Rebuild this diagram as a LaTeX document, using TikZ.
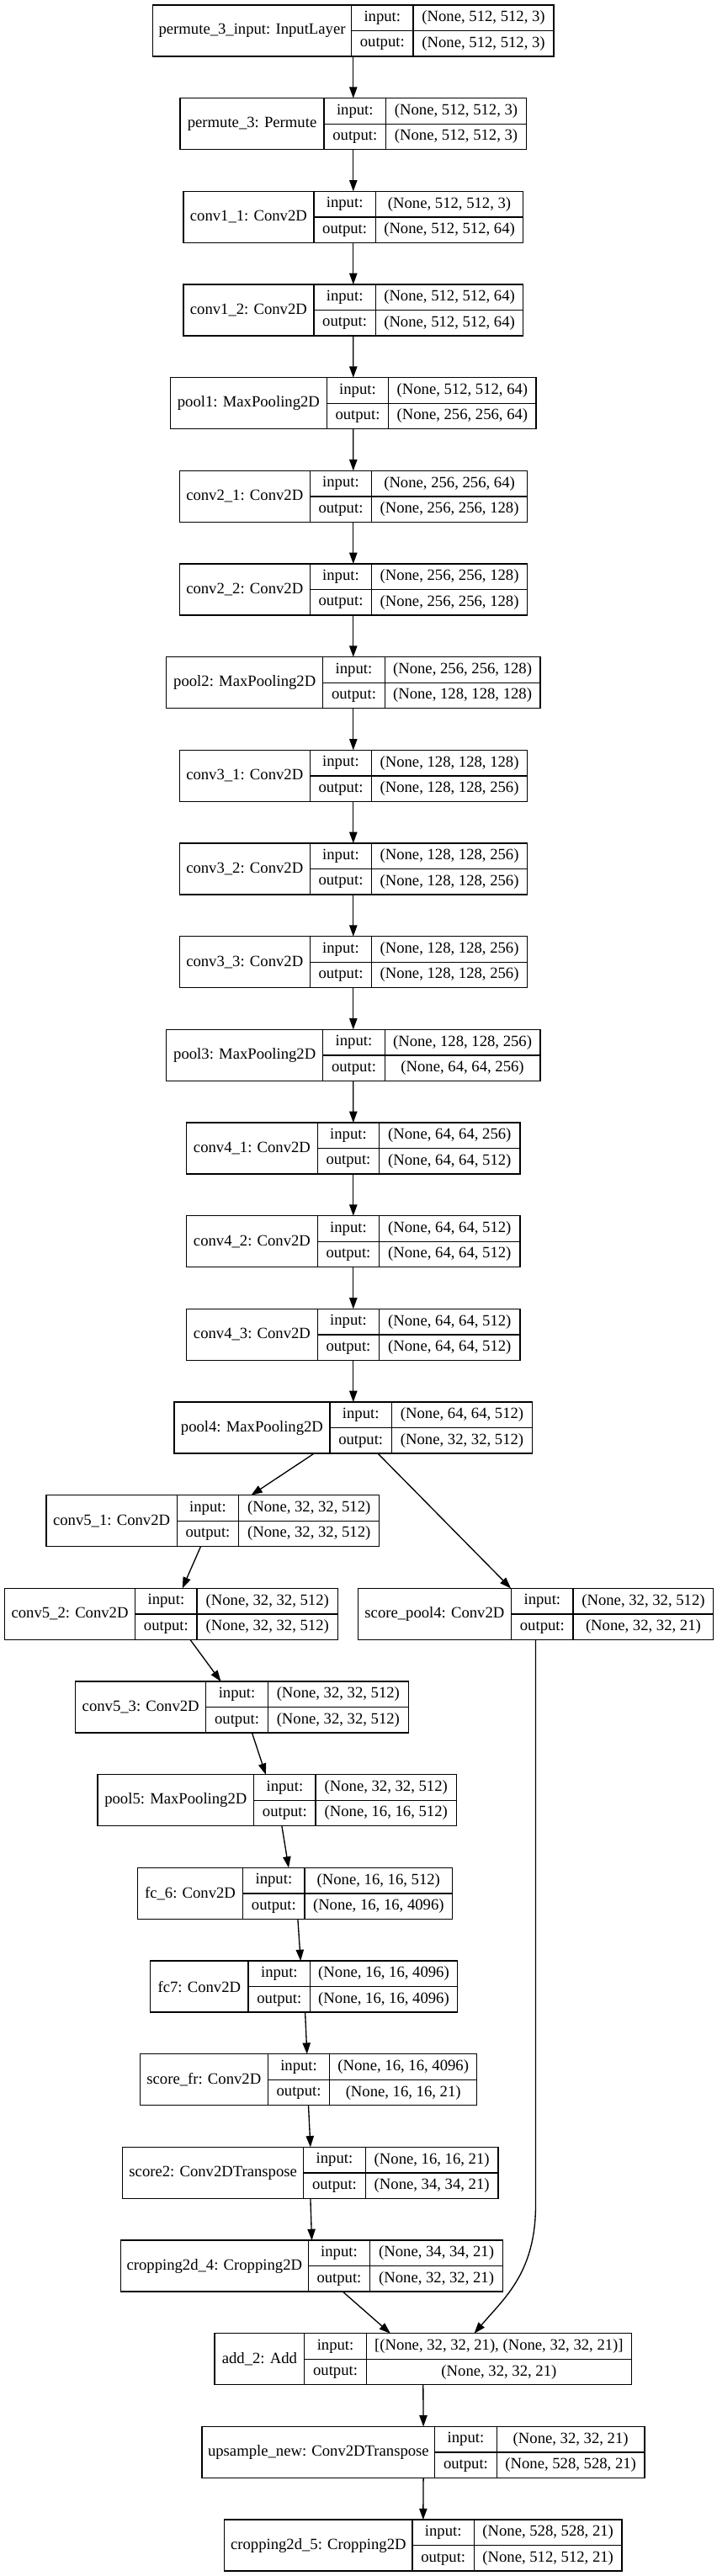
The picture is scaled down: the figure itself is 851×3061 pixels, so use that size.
\documentclass[tikz,border=0pt]{standalone}
\usepackage{fontspec}
\setmainfont{Liberation Serif}
\usepackage{tikz}
\usetikzlibrary{positioning, arrows.meta, fit, calc}

% one Keras layer: name | input/output | shapes
% #1 id, #2 row, #3 centre x, #4 name width, #5 shape width, #6 label, #7 input, #8 output
\newcommand{\layer}[8]{%
  \node[namecell, minimum width={#4*0.75pt}, anchor=north west]
    (#1-name) at ({#3-(#4+73.5+#5)/2}, {6+110.67*(#2-1)}) {#6};
  \node[iocell, right=0pt of #1-name] (#1-io) {input:\\output:};
  \node[shapecell, minimum width={#5*0.75pt}, right=0pt of #1-io] (#1-shape) {#7\\#8};
  \draw[line width=1pt] (#1-io.west) -- (#1-shape.east);
  \node[record, fit=(#1-name)(#1-shape)] (#1) {};
}

\begin{document}
\begin{tikzpicture}[
                x=0.75pt, y=-0.75pt,
                cell/.style={draw, rectangle, line width=1pt, inner xsep=2pt, inner ysep=0pt,
                             outer sep=0pt, minimum height=45.75pt},
                namecell/.style={cell, font=\fontsize{14pt}{16.8pt}\selectfont},
                iocell/.style={cell, align=center, minimum width=55.125pt,
                               font=\fontsize{14pt}{22.875pt}\selectfont},
                shapecell/.style={cell, align=center, font=\fontsize{14pt}{22.875pt}\selectfont},
                record/.style={inner sep=0pt, outer sep=0pt},
                edge/.style={-{Triangle[length=10pt, width=7pt]}, line width=1pt},
            ]
            \useasboundingbox (0,0) rectangle (851,3061);

            % Main chain
            \layer{perm3in}{1}{419.8}{236}{167}{permute\_3\_input: InputLayer}{(None, 512, 512, 3)}{(None, 512, 512, 3)}
            \layer{perm3}{2}{419.8}{171}{167}{permute\_3: Permute}{(None, 512, 512, 3)}{(None, 512, 512, 3)}
            \layer{conv11}{3}{419.8}{155}{175.3}{conv1\_1: Conv2D}{(None, 512, 512, 3)}{(None, 512, 512, 64)}
            \layer{conv12}{4}{419.8}{155}{175.3}{conv1\_2: Conv2D}{(None, 512, 512, 64)}{(None, 512, 512, 64)}
            \layer{pool1}{5}{419.8}{185.7}{175.3}{pool1: MaxPooling2D}{(None, 512, 512, 64)}{(None, 256, 256, 64)}
            \layer{conv21}{6}{419.8}{155}{184.6}{conv2\_1: Conv2D}{(None, 256, 256, 64)}{(None, 256, 256, 128)}
            \layer{conv22}{7}{419.8}{155}{184.6}{conv2\_2: Conv2D}{(None, 256, 256, 128)}{(None, 256, 256, 128)}
            \layer{pool2}{8}{419.8}{186}{184.6}{pool2: MaxPooling2D}{(None, 256, 256, 128)}{(None, 128, 128, 128)}
            \layer{conv31}{9}{419.8}{155}{184.6}{conv3\_1: Conv2D}{(None, 128, 128, 128)}{(None, 128, 128, 256)}
            \layer{conv32}{10}{419.8}{155}{184.6}{conv3\_2: Conv2D}{(None, 128, 128, 256)}{(None, 128, 128, 256)}
            \layer{conv33}{11}{419.8}{155}{184.6}{conv3\_3: Conv2D}{(None, 128, 128, 256)}{(None, 128, 128, 256)}
            \layer{pool3}{12}{419.8}{186}{184.6}{pool3: MaxPooling2D}{(None, 128, 128, 256)}{(None, 64, 64, 256)}
            \layer{conv41}{13}{419.8}{155.5}{167.2}{conv4\_1: Conv2D}{(None, 64, 64, 256)}{(None, 64, 64, 512)}
            \layer{conv42}{14}{419.8}{155.5}{167.2}{conv4\_2: Conv2D}{(None, 64, 64, 512)}{(None, 64, 64, 512)}
            \layer{conv43}{15}{419.8}{155.5}{167.2}{conv4\_3: Conv2D}{(None, 64, 64, 512)}{(None, 64, 64, 512)}
            \layer{pool4}{16}{419.8}{185}{167.2}{pool4: MaxPooling2D}{(None, 64, 64, 512)}{(None, 32, 32, 512)}

            % Two branches
            \layer{conv51}{17}{252.9}{155.2}{167.1}{conv5\_1: Conv2D}{(None, 32, 32, 512)}{(None, 32, 32, 512)}
            \layer{conv52}{18}{203.4}{155.2}{167.2}{conv5\_2: Conv2D}{(None, 32, 32, 512)}{(None, 32, 32, 512)}
            \layer{scorepool4}{18}{636.5}{182.4}{166.7}{score\_pool4: Conv2D}{(None, 32, 32, 512)}{(None, 32, 32, 21)}
            \layer{conv53}{19}{287.5}{155.2}{167.1}{conv5\_3: Conv2D}{(None, 32, 32, 512)}{(None, 32, 32, 512)}
            \layer{pool5}{20}{329.2}{185.6}{167.2}{pool5: MaxPooling2D}{(None, 32, 32, 512)}{(None, 16, 16, 512)}
            \layer{fc6}{21}{350.4}{125.3}{175.3}{fc\_6: Conv2D}{(None, 16, 16, 512)}{(None, 16, 16, 4096)}
            \layer{fc7}{22}{361}{116.5}{174.8}{fc7: Conv2D}{(None, 16, 16, 4096)}{(None, 16, 16, 4096)}
            \layer{scorefr}{23}{366.5}{151.9}{174.8}{score\_fr: Conv2D}{(None, 16, 16, 4096)}{(None, 16, 16, 21)}
            \layer{score2}{24}{368.9}{215}{157.9}{score2: Conv2DTranspose}{(None, 16, 16, 21)}{(None, 34, 34, 21)}
            \layer{crop4}{25}{370.5}{222.7}{157.8}{cropping2d\_4: Cropping2D}{(None, 34, 34, 21)}{(None, 32, 32, 21)}

            % Merge and upsample
            \layer{add2}{26}{502.8}{106.7}{315.2}{add\_2: Add}{[(None, 32, 32, 21), (None, 32, 32, 21)]}{(None, 32, 32, 21)}
            \layer{upsample}{27}{503.1}{276.6}{175.9}{upsample\_new: Conv2DTranspose}{(None, 32, 32, 21)}{(None, 528, 528, 21)}
            \layer{crop5}{28}{502.8}{223.2}{175.4}{cropping2d\_5: Cropping2D}{(None, 528, 528, 21)}{(None, 512, 512, 21)}

            % Straight connections
            \draw[edge] (perm3in.south) -- (perm3.north);
            \draw[edge] (perm3.south) -- (conv11.north);
            \draw[edge] (conv11.south) -- (conv12.north);
            \draw[edge] (conv12.south) -- (pool1.north);
            \draw[edge] (pool1.south) -- (conv21.north);
            \draw[edge] (conv21.south) -- (conv22.north);
            \draw[edge] (conv22.south) -- (pool2.north);
            \draw[edge] (pool2.south) -- (conv31.north);
            \draw[edge] (conv31.south) -- (conv32.north);
            \draw[edge] (conv32.south) -- (conv33.north);
            \draw[edge] (conv33.south) -- (pool3.north);
            \draw[edge] (pool3.south) -- (conv41.north);
            \draw[edge] (conv41.south) -- (conv42.north);
            \draw[edge] (conv42.south) -- (conv43.north);
            \draw[edge] (conv43.south) -- (pool4.north);

            % Slanted connections
            \draw[edge] ($(pool4.south)+(-46.5,0)$) -- ($(conv51.north)+(45.5,0)$);
            \draw[edge] ($(pool4.south)+(29.2,0)$) -- ($(scorepool4.north)+(-29.4,0)$);
            \draw[edge] ($(conv51.south)+(-14.4,0)$) -- ($(conv52.north)+(13.3,0)$);
            \draw[edge] ($(conv52.south)+(22.6,0)$) -- ($(conv53.north)+(-25,0)$);
            \draw[edge] ($(conv53.south)+(12,0)$) -- ($(pool5.north)+(-13.4,0)$);
            \draw[edge] ($(pool5.south)+(5.7,0)$) -- ($(fc6.north)+(-7.4,0)$);
            \draw[edge] ($(fc6.south)+(3.5,0)$) -- ($(fc7.north)+(-3.8,0)$);
            \draw[edge] ($(fc7.south)+(1.6,0)$) -- ($(scorefr.north)+(-1.7,0)$);
            \draw[edge] (scorefr.south) -- (score2.north);
            \draw[edge] (score2.south) -- (crop4.north);
            \draw[edge] ($(crop4.south)+(36.8,0)$) -- ($(add2.north)+(-38.9,0)$);

            % Skip connection
            \draw[edge] (scorepool4.south) -- ++(0,671.6)
                .. controls +(0,80) and +(36.5,-42.7) .. ($(add2.north)+(60.7,0)$);

            \draw[edge] (add2.south) -- (upsample.north);
            \draw[edge] (upsample.south) -- (crop5.north);

            \end{tikzpicture}
\end{document}
